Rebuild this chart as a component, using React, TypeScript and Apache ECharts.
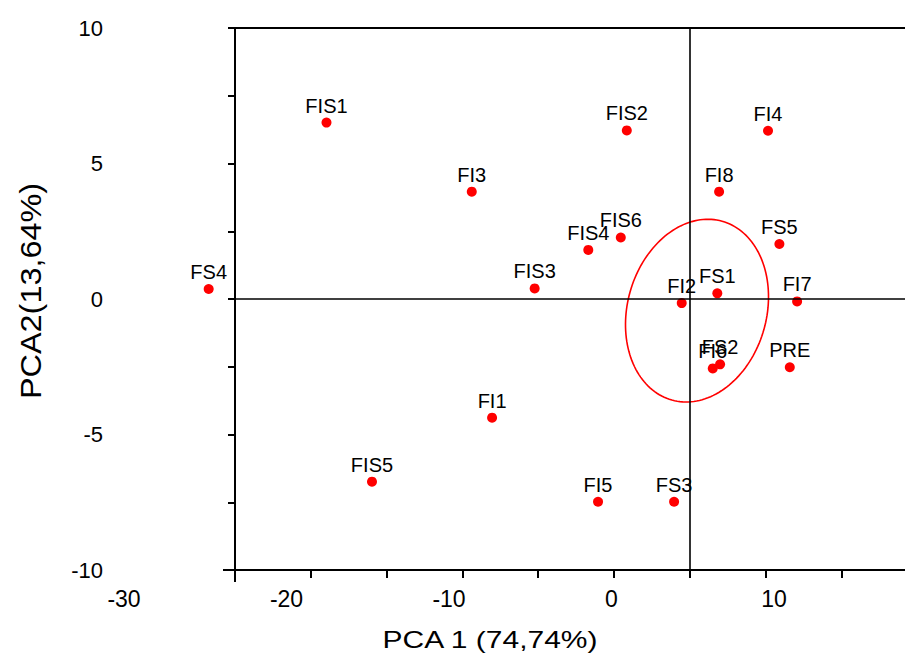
import React, { useEffect, useRef } from "react";
import * as echarts from "echarts";

const FONT = "'Liberation Sans', Arial, Helvetica, sans-serif";

// Sample names and PCA scores
const names = ["FIS1", "FIS2", "FI4", "FI3", "FI8", "FIS6", "FIS4", "FS5", "FS4", "FIS3", "FI2", "FS1", "FI7", "FI6", "FS2", "PRE", "FI1", "FIS5", "FI5", "FS3"];
const pca1 = [-17.54, 0.94, 9.63, -8.6, 6.62, 0.57, -1.43, 10.33, -24.79, -4.73, 4.32, 6.51, 11.42, 6.23, 6.68, 10.97, -7.35, -14.74, -0.83, 3.85];
const pca2 = [6.51, 6.22, 6.21, 3.96, 3.96, 2.27, 1.81, 2.03, 0.37, 0.39, -0.15, 0.21, -0.09, -2.56, -2.41, -2.52, -4.38, -6.74, -7.48, -7.48];

// Axis settings
const yTicks = { min: -10, max: 10, step: 2.5, labelStep: 5 };
const xTickLabels = [-30, -20, -10, 0, 10];
const plotX = { min: -23.17, max: 19.29, step: 4.665 };
const crossLineX = 4.8;
const crossLineY = 0;

// Ellipse: centre and two conjugate semi-diameters (data units)
const ellipseCenter = [5.26, -0.43];
const ellipseU = [1.545, 3.3];
const ellipseV = [4.12, -0.69];

const xTitle = "PCA 1 (74,74%)";
const yTitle = "PCA2(13,64%)";

export default function App() {
  const ref = useRef<HTMLDivElement>(null);
  useEffect(() => {
    document.body.style.margin = "0";
    if (!ref.current) return;
    const chart = echarts.init(ref.current, null, { renderer: "svg" });
    const black = "#000";
    const option: any = {
      animation: false,
      backgroundColor: "#fff",
      textStyle: { fontFamily: FONT },
      grid: [
        { left: 235, top: 28, right: 0, bottom: 84, show: false },
        { left: 124, top: 28, right: 151, bottom: 84, show: false },
      ],
      xAxis: [
        {
          gridIndex: 0,
          type: "value",
          min: plotX.min,
          max: plotX.max,
          interval: plotX.step,
          axisLine: { onZero: false, lineStyle: { color: black, width: 2 } },
          axisTick: { length: 8, lineStyle: { color: black, width: 2 } },
          axisLabel: { show: false },
          splitLine: { show: false },
        },
        {
          gridIndex: 1,
          type: "value",
          min: xTickLabels[0],
          max: xTickLabels[xTickLabels.length - 1],
          interval: xTickLabels[1] - xTickLabels[0],
          axisLine: { show: false },
          axisTick: { show: false },
          splitLine: { show: false },
          axisLabel: { fontSize: 23, color: black, margin: 17, fontFamily: FONT },
        },
        {
          gridIndex: 0,
          type: "value",
          position: "top",
          min: plotX.min,
          max: plotX.max,
          axisLine: { onZero: false, lineStyle: { color: black, width: 2 } },
          axisTick: { show: false },
          axisLabel: { show: false },
          splitLine: { show: false },
        },
      ],
      yAxis: [
        {
          gridIndex: 0,
          type: "value",
          min: yTicks.min,
          max: yTicks.max,
          interval: yTicks.step,
          axisLine: { onZero: false, lineStyle: { color: black, width: 2 } },
          axisTick: { length: 7, lineStyle: { color: black, width: 2 } },
          axisLabel: {
            fontSize: 22,
            color: black,
            margin: 132,
            fontFamily: FONT,
            formatter: (v: number) => (Math.abs(v % yTicks.labelStep) < 1e-9 ? String(v) : ""),
          },
          splitLine: { show: false },
        },
        { gridIndex: 1, type: "value", show: false, min: yTicks.min, max: yTicks.max },
      ],
      graphic: [
        { type: "line", shape: { x1: 223, y1: 570, x2: 236, y2: 570 }, style: { stroke: black, lineWidth: 2 } },
        { type: "line", shape: { x1: 235, y1: 569, x2: 235, y2: 582 }, style: { stroke: black, lineWidth: 2 } },
        {
          type: "text",
          x: 490,
          y: 640,
          scaleX: 1.25,
          style: { text: xTitle, fontSize: 24, fontFamily: FONT, fill: black, align: "center", verticalAlign: "middle", textAlign: "center", textVerticalAlign: "middle" },
        },
        {
          type: "text",
          x: 31,
          y: 291,
          rotation: Math.PI / 2,
          scaleX: 1.08,
          style: { text: yTitle, fontSize: 30, fontFamily: FONT, fill: black, align: "center", verticalAlign: "middle", textAlign: "center", textVerticalAlign: "middle" },
        },
      ],
      series: [
        {
          type: "custom",
          xAxisIndex: 0,
          yAxisIndex: 0,
          z: 1,
          silent: true,
          data: [ellipseCenter],
          renderItem: (_params: any, api: any) => {
            const pts: number[][] = [];
            const n = 160;
            for (let k = 0; k <= n; k++) {
              const t = (k / n) * Math.PI * 2;
              pts.push(
                api.coord([
                  ellipseCenter[0] + ellipseU[0] * Math.cos(t) + ellipseV[0] * Math.sin(t),
                  ellipseCenter[1] + ellipseU[1] * Math.cos(t) + ellipseV[1] * Math.sin(t),
                ])
              );
            }
            return { type: "polyline", shape: { points: pts }, style: { stroke: "#ff0000", lineWidth: 1.6, fill: null } };
          },
        },
        {
          type: "scatter",
          xAxisIndex: 0,
          yAxisIndex: 0,
          clip: false,
          z: 3,
          symbol: "circle",
          symbolSize: 10,
          itemStyle: { color: "#ff0000", opacity: 1 },
          label: { show: true, position: "top", distance: 2, formatter: "{b}", fontSize: 20, color: black, fontFamily: FONT },
          data: names.map((n, i) => ({ name: n, value: [pca1[i], pca2[i]] })),
          markLine: {
            silent: true,
            symbol: ["none", "none"],
            label: { show: false },
            lineStyle: { color: black, width: 1.6, type: "solid" },
            data: [{ xAxis: crossLineX }, { yAxis: crossLineY }],
          },
        },
      ],
    };
    chart.setOption(option);
    return () => chart.dispose();
  }, []);
  return (
    <div style={{ width: 905, height: 654, overflow: "hidden", position: "relative" }}>
      <div ref={ref} style={{ width: 925, height: 654 }} />
    </div>
  );
}
